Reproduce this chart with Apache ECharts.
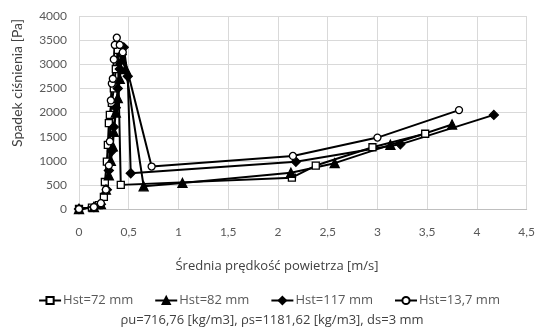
<!DOCTYPE html>
<html><head><meta charset="utf-8">
<script src="https://cdn.jsdelivr.net/npm/echarts@6/dist/echarts.min.js"></script>
<style>html,body{margin:0;padding:0;background:#fff}#c{width:538px;height:334px}</style>
</head><body><div id="c"></div>
<script>
const seriesNames = ["Hst=72 mm", "Hst=82 mm", "Hst=117 mm", "Hst=13,7 mm"];
const x72 = [0, 0.13, 0.2, 0.25, 0.26, 0.28, 0.29, 0.3, 0.31, 0.33, 0.35, 0.37, 0.39, 0.42, 2.14, 2.38, 2.95, 3.48];
const y72 = [0, 30, 80, 250, 560, 980, 1330, 1780, 1950, 2200, 2500, 2900, 3300, 500, 650, 900, 1280, 1560];
const x82 = [0, 0.15, 0.22, 0.27, 0.3, 0.32, 0.34, 0.35, 0.37, 0.39, 0.41, 0.43, 0.47, 0.65, 1.04, 2.13, 2.57, 3.13, 3.75];
const y82 = [0, 40, 100, 400, 700, 1000, 1300, 1600, 2000, 2300, 2700, 3100, 2900, 470, 540, 750, 950, 1330, 1750];
const x117 = [0, 0.15, 0.22, 0.28, 0.3, 0.33, 0.35, 0.37, 0.39, 0.41, 0.43, 0.45, 0.49, 0.52, 2.18, 3.23, 4.17];
const y117 = [0, 40, 100, 400, 800, 1200, 1700, 2100, 2500, 2900, 3200, 3350, 2750, 740, 980, 1340, 1950];
const x137 = [0, 0.15, 0.22, 0.27, 0.3, 0.31, 0.32, 0.33, 0.34, 0.35, 0.36, 0.38, 0.41, 0.44, 0.73, 2.15, 3.0, 3.82];
const y137 = [0, 40, 120, 400, 900, 1400, 2250, 2600, 2700, 3100, 3400, 3550, 3400, 3250, 880, 1100, 1480, 2050];
const xTicks = ["0", "0,5", "1", "1,5", "2", "2,5", "3", "3,5", "4", "4,5"];
const yTicks = ["0", "500", "1000", "1500", "2000", "2500", "3000", "3500", "4000"];
const xTitle = 'Średnia prędkość powietrza [m/s]';
const yTitle = 'Spadek ciśnienia [Pa]';
const subTitle = 'ρu=716,76 [kg/m3], ρs=1181,62 [kg/m3], ds=3 mm';

const pairs = (xs, ys) => xs.map((v, i) => [v, ys[i]]);
const markers = [
  {symbol: 'rect', size: 7, fill: '#fff'},
  {symbol: 'triangle', size: 9, fill: '#000'},
  {symbol: 'diamond', size: 9, fill: '#000'},
  {symbol: 'circle', size: 7, fill: '#fff'}
];
const datasets = [pairs(x72, y72), pairs(x82, y82), pairs(x117, y117), pairs(x137, y137)];
const centered = {align: 'center', verticalAlign: 'middle', textAlign: 'center', textVerticalAlign: 'middle'};

const chart = echarts.init(document.getElementById('c'), null, {renderer: 'canvas'});
chart.setOption({
  animation: false,
  backgroundColor: '#fff',
  grid: {left: 79, right: 9, top: 16, bottom: 125},
  graphic: [
    {type: 'text', x: 17, y: 83, rotation: Math.PI / 2,
      style: Object.assign({text: yTitle, font: '14px Lato', fill: '#404040'}, centered)},
    {type: 'text', x: 277, y: 266,
      style: Object.assign({text: xTitle, font: '13px "Open Sans"', fill: '#404040'}, centered)},
    {type: 'text', x: 272, y: 320,
      style: Object.assign({text: subTitle, font: '13px "Open Sans"', fill: '#404040'}, centered)}
  ],
  legend: {
    left: 'center', top: 289,
    itemWidth: 22, itemHeight: 9, itemGap: 21,
    textStyle: {fontFamily: 'Open Sans', fontSize: 13, color: '#595959', padding: [0, 0, 0, -3]},
    data: seriesNames
  },
  xAxis: {
    type: 'value', min: 0, max: 4.5, interval: 0.5,
    axisLine: {show: true, lineStyle: {color: '#bfbfbf'}},
    axisTick: {show: false},
    axisLabel: {fontFamily: 'Lato', fontSize: 12, color: '#595959', margin: 17,
      formatter: v => xTicks[Math.round(v / 0.5)] ?? ''},
    splitLine: {show: true, lineStyle: {color: '#d9d9d9'}}
  },
  yAxis: {
    type: 'value', min: 0, max: 4000, interval: 500,
    axisLine: {show: false},
    axisTick: {show: false},
    axisLabel: {fontFamily: 'Lato', fontSize: 12, color: '#595959', margin: 12,
      formatter: v => yTicks[Math.round(v / 500)] ?? ''},
    splitLine: {show: true, lineStyle: {color: '#d9d9d9'}}
  },
  series: datasets.map((d, i) => ({
    name: seriesNames[i], type: 'line', data: d,
    symbol: markers[i].symbol, symbolSize: markers[i].size, showAllSymbol: true,
    lineStyle: {color: '#000', width: 2},
    itemStyle: {color: markers[i].fill, borderColor: '#000', borderWidth: 1.3},
    emphasis: {disabled: true}
  }))
});
</script></body></html>
